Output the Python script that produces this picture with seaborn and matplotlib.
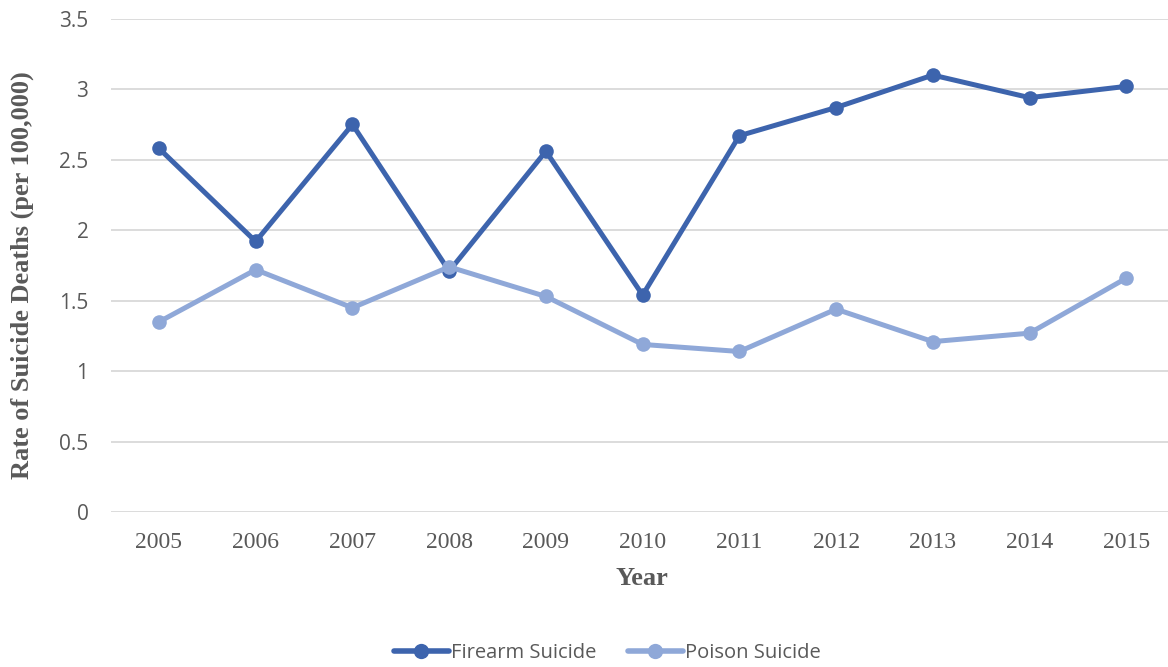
import matplotlib
matplotlib.use("Agg")
import matplotlib.pyplot as plt
import seaborn as sns
import pandas as pd

years = ["2005", "2006", "2007", "2008", "2009", "2010", "2011", "2012", "2013", "2014", "2015"]
firearm = [2.58, 1.92, 2.75, 1.71, 2.56, 1.54, 2.67, 2.87, 3.10, 2.94, 3.02]
poison = [1.35, 1.72, 1.45, 1.74, 1.53, 1.19, 1.14, 1.44, 1.21, 1.27, 1.66]
series_names = ["Firearm Suicide", "Poison Suicide"]
y_ticks = [0, 0.5, 1, 1.5, 2, 2.5, 3, 3.5]
y_tick_labels = ["0", "0.5", "1", "1.5", "2", "2.5", "3", "3.5"]

df = pd.DataFrame({
    "Year": years * 2,
    "Rate": firearm + poison,
    "Series": [series_names[0]] * len(years) + [series_names[1]] * len(years),
})

sns.set_theme(style="white")
plt.rcParams["font.family"] = ["Open Sans", "DejaVu Sans"]

TXT = "#595959"
palette = {series_names[0]: "#3D64AD", series_names[1]: "#8FA8D8"}

fig = plt.figure(figsize=(11.68, 6.67), dpi=100)
ax = fig.add_axes([0.0947, 0.232, 0.911, 0.740])

sns.lineplot(data=df, x="Year", y="Rate", hue="Series", palette=palette,
             marker="o", markersize=10.5, markeredgewidth=0, linewidth=3.6,
             sort=False, ax=ax, legend=True)

ax.set_xlim(-0.5, len(years) - 0.5)
ax.set_ylim(0, 3.5)
ax.set_yticks(y_ticks)
ax.set_yticklabels(y_tick_labels)
ax.grid(axis="y", color="#D9D9D9", linewidth=1.3)
ax.grid(axis="x", visible=False)
ax.set_axisbelow(True)
for s in ax.spines.values():
    s.set_visible(False)

ax.tick_params(axis="y", length=0, pad=16, labelsize=15, labelcolor=TXT)
ax.tick_params(axis="x", length=0, pad=14, labelcolor=TXT)
for lab in ax.get_xticklabels():
    lab.set_fontfamily("Liberation Serif")
    lab.set_fontsize(17)

ax.set_xlabel("")
ax.set_ylabel("")
fig.text(0.019, 0.588, "Rate of Suicide Deaths (per 100,000)", rotation=90,
         ha="center", va="center", fontsize=19, fontweight="bold",
         family="Liberation Serif", color=TXT)
fig.text(0.550, 0.133, "Year", ha="center", va="center", fontsize=19,
         fontweight="bold", family="Liberation Serif", color=TXT)

handles, labels = ax.get_legend_handles_labels()
ax.legend_.remove()
for h in handles:
    h.set_markersize(11)
    h.set_linewidth(4)
leg = fig.legend(handles, labels, loc="center", bbox_to_anchor=(0.52, 0.021),
                 ncol=2, frameon=False, fontsize=14.5, handlelength=2.7,
                 handletextpad=0.1, columnspacing=1.6, labelcolor=TXT)

fig.savefig("out.png", dpi=100, facecolor="white")
